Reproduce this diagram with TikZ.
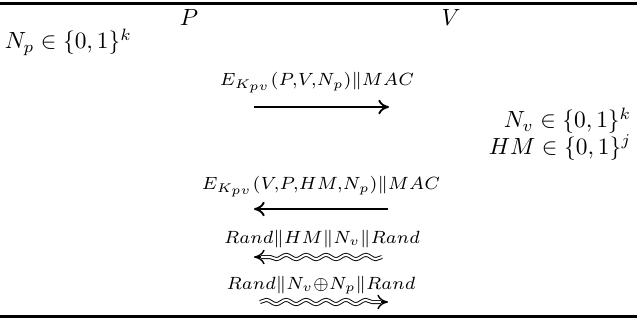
\documentclass[tikz,border=0pt]{standalone}
\usepackage{amsmath,amssymb}
\usepackage{graphicx}
\usepackage{tikz}
\usetikzlibrary{arrows.meta,positioning,decorations.pathmorphing}
\newcommand{\msgtxt}[1]{\scalebox{1.08}{$\scriptstyle #1$}}
\tikzset{
  party/.style ={font=\normalsize,inner sep=1pt},
  var/.style   ={font=\normalsize,inner sep=1pt},
  vars/.style  ={font={\normalsize\baselineskip=11.5pt\lineskiplimit=-20pt},
                 align=right,inner sep=1pt},
  msg/.style   ={font=\normalsize,inner sep=1pt},
  sig/.style   ={-{To[length=1.6mm,width=2.2mm]},draw=black,thick},
  wav/.style   ={draw=black,thin,double,double distance=0.9pt,
                 decorate,decoration={snake,amplitude=0.9pt,segment length=8.5pt}},
  tipr/.style  ={-{To[length=1.6mm,width=2.2mm]},semithick},
  rule/.style  ={draw=black,line width=1.3pt},
}

\begin{document}
\begin{tikzpicture}[x=0.427pt,y=-0.427pt]
\useasboundingbox (0,0) rectangle (637,325);

% ===== frame rules ========================================================
\coordinate (tl) at (0,3.5);   \coordinate (tr) at (637,3.5);
\coordinate (bl) at (0,316.5); \coordinate (br) at (637,316.5);
\draw[rule] (tl) -- (tr);
\draw[rule] (bl) -- (br);

% ===== parties ============================================================
\node[party] (P) at (189,17) {$P$};
\node[party] (V) at (451,17) {$V$};

% ===== local values =======================================================
\node[var,anchor=west] (Np) at (2,42) {$N_p \in \{0,1\}^k$};
\node[vars,anchor=east] (Nv) at (634,134)
  {$N_v \in \{0,1\}^k$\\ $HM \in \{0,1\}^j$};

% ===== message 1: P -> V ==================================================
\coordinate (m1a) at (254,107); \coordinate (m1b) at (389,107);
\node[msg] (l1) at (317,83) {\msgtxt{E_{K_{pv}}(P,V,N_p)\|MAC}};
\draw[sig] (m1a) -- (m1b);

% ===== message 2: V -> P ==================================================
\coordinate (m2a) at (388,209); \coordinate (m2b) at (254,209);
\node[msg] (l2) at (321,187) {\msgtxt{E_{K_{pv}}(V,P,HM,N_p)\|MAC}};
\draw[sig] (m2a) -- (m2b);

% ===== message 3: V ~> P (side channel) ===================================
\coordinate (m3a) at (382,257); \coordinate (m3b) at (261,257);
\coordinate (m3t) at (254,257);
\node[msg] (l3) at (322,239) {\msgtxt{Rand\|HM\|N_v\|Rand}};
\draw[wav] (m3a) -- (m3b);
\draw[tipr] (m3b) -- (m3t);

% ===== message 4: P ~> V (side channel) ===================================
\coordinate (m4a) at (260,302); \coordinate (m4b) at (381,302);
\coordinate (m4t) at (388,302);
\node[msg] (l4) at (321,285) {\msgtxt{Rand\|N_v\oplus N_p\|Rand}};
\draw[wav] (m4a) -- (m4b);
\draw[tipr] (m4b) -- (m4t);
\end{tikzpicture}
\end{document}
